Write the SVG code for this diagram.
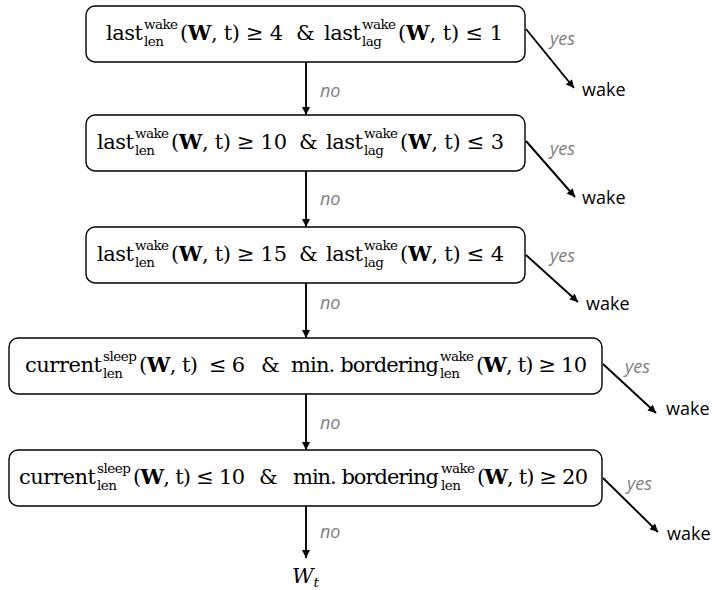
<svg xmlns="http://www.w3.org/2000/svg" width="713" height="590" viewBox="0 0 713 590">
<defs>
<marker id="ah" viewBox="0 0 10 10" refX="10" refY="5" markerWidth="9" markerHeight="8" markerUnits="userSpaceOnUse" orient="auto">
<path d="M0,0 L10,5 L0,10 z" fill="#000"/>
</marker>
<style>
.box{fill:#fff;stroke:#000;stroke-width:1.4}
.m{font-family:"DejaVu Serif","Liberation Serif",serif;font-size:21px;fill:#000}
.s{font-family:"DejaVu Serif","Liberation Serif",serif;font-size:13.5px;fill:#000}
.b{font-weight:bold}
.lbl{font-family:"Open Sans","Liberation Sans",sans-serif;font-size:18px;font-style:italic;fill:#808080}
.out{font-family:"Open Sans","Liberation Sans",sans-serif;font-size:18px;fill:#000}
.ln{stroke:#000;stroke-width:1.9;fill:none;marker-end:url(#ah)}
</style>
</defs>
<rect width="713" height="590" fill="#fff"/>

<g id="connectors">
<line class="ln" x1="306" y1="62" x2="306" y2="115"/>
<line class="ln" x1="306" y1="171" x2="306" y2="227"/>
<line class="ln" x1="306" y1="283" x2="306" y2="338"/>
<line class="ln" x1="306" y1="394" x2="306" y2="450"/>
<line class="ln" x1="306" y1="506" x2="306" y2="558"/>
<line class="ln" x1="526" y1="29" x2="574" y2="88"/>
<line class="ln" x1="526" y1="141" x2="575" y2="197"/>
<line class="ln" x1="526" y1="255" x2="578" y2="302"/>
<line class="ln" x1="603" y1="364" x2="656" y2="413"/>
<line class="ln" x1="603" y1="478" x2="658" y2="532"/>
<text class="lbl" x="320" y="97">no</text>
<text class="lbl" x="320" y="205">no</text>
<text class="lbl" x="320" y="309">no</text>
<text class="lbl" x="320" y="429">no</text>
<text class="lbl" x="320" y="538">no</text>
<text class="lbl" x="550" y="45">yes</text>
<text class="lbl" x="550" y="155">yes</text>
<text class="lbl" x="550" y="262">yes</text>
<text class="lbl" x="625" y="373">yes</text>
<text class="lbl" x="627" y="490">yes</text>
</g>

<g id="node1">
<rect class="box" x="86" y="6" width="439" height="56" rx="9"/>
<text class="m" x="106" y="40" textLength="37">last</text>
<text class="s" x="144" y="29" textLength="34">wake</text>
<text class="s" x="144" y="46" textLength="20">len</text>
<text class="m" x="180" y="40" textLength="103">(<tspan class="b">W</tspan>, t) ≥ 4</text>
<text class="m" x="296" y="40" textLength="15">&amp;</text>
<text class="m" x="324" y="40" textLength="37">last</text>
<text class="s" x="362" y="29" textLength="34">wake</text>
<text class="s" x="362" y="46" textLength="20">lag</text>
<text class="m" x="398" y="40" textLength="105">(<tspan class="b">W</tspan>, t) ≤ 1</text>
</g>

<g id="node2">
<rect class="box" x="86" y="115" width="439" height="56" rx="9"/>
<text class="m" x="97" y="149" textLength="37">last</text>
<text class="s" x="135" y="138" textLength="34">wake</text>
<text class="s" x="135" y="155" textLength="20">len</text>
<text class="m" x="171" y="149" textLength="116">(<tspan class="b">W</tspan>, t) ≥ 10</text>
<text class="m" x="299" y="149" textLength="15">&amp;</text>
<text class="m" x="326" y="149" textLength="37">last</text>
<text class="s" x="364" y="138" textLength="34">wake</text>
<text class="s" x="364" y="155" textLength="20">lag</text>
<text class="m" x="400" y="149" textLength="104">(<tspan class="b">W</tspan>, t) ≤ 3</text>
</g>

<g id="node3">
<rect class="box" x="86" y="227" width="439" height="56" rx="9"/>
<text class="m" x="97" y="261" textLength="37">last</text>
<text class="s" x="135" y="250" textLength="34">wake</text>
<text class="s" x="135" y="267" textLength="20">len</text>
<text class="m" x="171" y="261" textLength="116">(<tspan class="b">W</tspan>, t) ≥ 15</text>
<text class="m" x="299" y="261" textLength="15">&amp;</text>
<text class="m" x="326" y="261" textLength="37">last</text>
<text class="s" x="364" y="250" textLength="34">wake</text>
<text class="s" x="364" y="267" textLength="20">lag</text>
<text class="m" x="400" y="261" textLength="104">(<tspan class="b">W</tspan>, t) ≤ 4</text>
</g>

<g id="node4">
<rect class="box" x="9" y="338" width="593" height="56" rx="9"/>
<text class="m" x="25" y="372" textLength="77">current</text>
<text class="s" x="103" y="361" textLength="34">sleep</text>
<text class="s" x="103" y="378" textLength="20">len</text>
<text class="m" x="139" y="372" textLength="59">(<tspan class="b">W</tspan>, t)</text>
<text class="m" x="209" y="372" textLength="36">≤ 6</text>
<text class="m" x="261" y="372" textLength="15">&amp;</text>
<text class="m" x="291" y="372" textLength="148">min. bordering</text>
<text class="s" x="440" y="361" textLength="34">wake</text>
<text class="s" x="440" y="378" textLength="20">len</text>
<text class="m" x="476" y="372" textLength="111">(<tspan class="b">W</tspan>, t) ≥ 10</text>
</g>

<g id="node5">
<rect class="box" x="9" y="450" width="593" height="56" rx="9"/>
<text class="m" x="19" y="484" textLength="77">current</text>
<text class="s" x="97" y="473" textLength="34">sleep</text>
<text class="s" x="97" y="490" textLength="20">len</text>
<text class="m" x="133" y="484" textLength="112">(<tspan class="b">W</tspan>, t) ≤ 10</text>
<text class="m" x="259" y="484" textLength="15">&amp;</text>
<text class="m" x="293" y="484" textLength="146">min. bordering</text>
<text class="s" x="441" y="473" textLength="34">wake</text>
<text class="s" x="441" y="490" textLength="20">len</text>
<text class="m" x="477" y="484" textLength="111">(<tspan class="b">W</tspan>, t) ≥ 20</text>
</g>

<g id="out1"><text class="out" x="582" y="96">wake</text></g>
<g id="out2"><text class="out" x="582" y="204">wake</text></g>
<g id="out3"><text class="out" x="586" y="310">wake</text></g>
<g id="out4"><text class="out" x="666" y="415">wake</text></g>
<g id="out5"><text class="out" x="667" y="540">wake</text></g>
<g id="end"><text class="m" x="292" y="583" font-style="italic" font-size="22">W<tspan class="s" dy="4" font-size="15">t</tspan></text></g>
</svg>
